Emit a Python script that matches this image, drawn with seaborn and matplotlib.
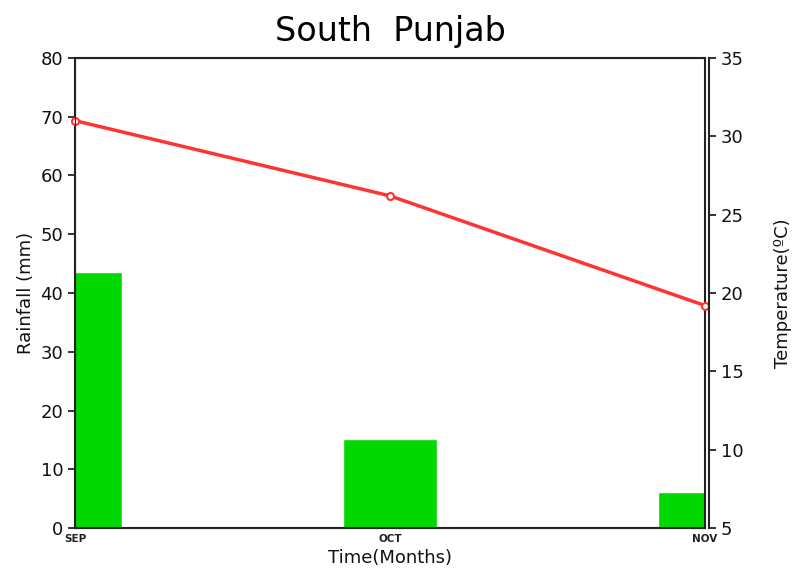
import pandas as pd
import seaborn as sns
import matplotlib.pyplot as plt

# Data
months = ['SEP', 'OCT', 'NOV']
rainfall = [43.6, 15.1, 6.1]
temperature = [31.0, 26.2, 19.2]

df = pd.DataFrame({'Month': months, 'Rainfall': rainfall, 'Temp': temperature})
df['pos'] = range(len(months))

sns.set_style('white')
plt.rcParams['font.family'] = ['DejaVu Sans']

fig = plt.figure(figsize=(8.01, 5.81), dpi=100)
ax = fig.add_axes([0.0936, 0.0912, 0.7865, 0.809])

# Rainfall bars on the left axis
sns.barplot(data=df, x='Month', y='Rainfall', color='#00d800', width=0.3,
            saturation=1, ax=ax)
ax.set_xlim(0, 2)
ax.set_ylim(0, 80)
ax.set_yticks(range(0, 81, 10))
ax.tick_params(axis='y', direction='out', length=5, width=1.2, labelsize=13, colors='#111111')
ax.tick_params(axis='x', direction='out', length=3, width=1, labelsize=7.5, pad=1)
ax.set_xticks(df['pos'])
ax.set_xticklabels(months, fontweight='bold', color='#222222')
ax.set_ylabel('Rainfall (mm)', fontsize=13, labelpad=4, color='#111111')
ax.set_xlabel('Time(Months)', fontsize=13, labelpad=4, color='#111111')
for s in ax.spines.values():
    s.set_linewidth(1.5)
    s.set_color('#222222')

# Temperature line on the right axis
ax2 = ax.twinx()
sns.lineplot(x=df['pos'], y=df['Temp'], ax=ax2, color='#ff3333', lw=2.5,
             marker='o', markersize=5, markerfacecolor='white',
             markeredgecolor='#ff3333', markeredgewidth=1.5, clip_on=False)
ax2.set_ylim(5, 35)
ax2.set_yticks(range(5, 36, 5))
ax2.spines['right'].set_position(('outward', 3))
ax2.spines['right'].set_linewidth(1.5)
ax2.spines['right'].set_color('#222222')
ax2.tick_params(axis='y', direction='out', length=5, width=1.2, labelsize=13, colors='#111111')
ax2.set_ylabel('Temperature(\u00baC)', fontsize=13, labelpad=22, color='#111111')
ax2.set_xlabel('')

ax.set_title('South  Punjab', fontsize=24, pad=12, color='black')

plt.savefig('out.png', dpi=100)
plt.close()
